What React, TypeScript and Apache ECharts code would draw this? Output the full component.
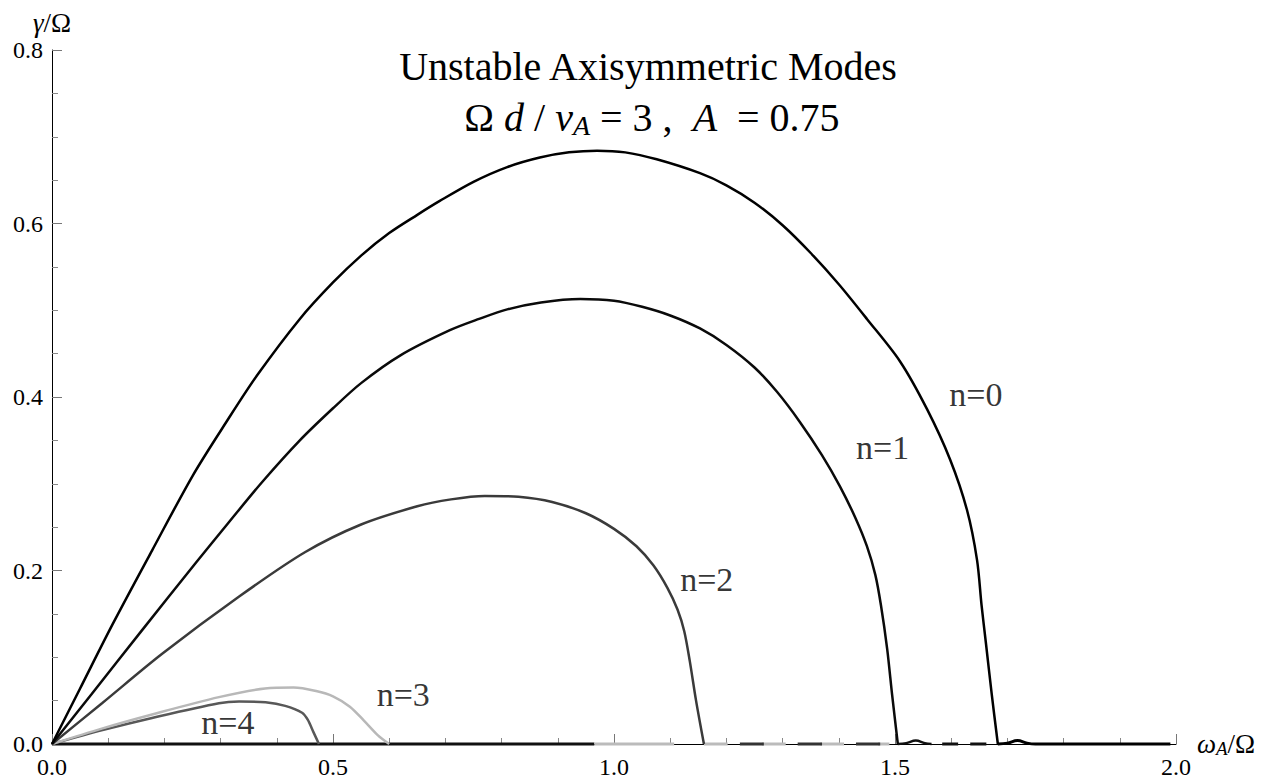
import React, { useEffect, useRef } from 'react';
import * as echarts from 'echarts';

const FONT = 'Liberation Serif';

const modeNames = ['n=0', 'n=1', 'n=2', 'n=3', 'n=4'];

const mode0: [number, number][] = [
  [0, 0], [0.05, 0.064], [0.107, 0.137], [0.178, 0.223], [0.251, 0.31], [0.311, 0.372],
  [0.365, 0.425], [0.441, 0.49], [0.5, 0.532], [0.55, 0.563], [0.6, 0.589], [0.65, 0.61],
  [0.69, 0.626], [0.75, 0.648], [0.81, 0.665], [0.868, 0.676], [0.92, 0.682], [0.97, 0.684],
  [1.02, 0.682], [1.076, 0.674], [1.153, 0.658], [1.2, 0.644], [1.25, 0.624], [1.3, 0.598],
  [1.35, 0.566], [1.4, 0.53], [1.45, 0.49], [1.509, 0.441], [1.557, 0.386], [1.598, 0.328],
  [1.628, 0.27], [1.646, 0.212], [1.654, 0.16], [1.662, 0.115], [1.672, 0.058], [1.683, 0],
];

const mode1: [number, number][] = [
  [0, 0], [0.071, 0.058], [0.16, 0.131], [0.256, 0.209], [0.314, 0.255], [0.374, 0.302],
  [0.441, 0.35], [0.5, 0.387], [0.55, 0.416], [0.62, 0.448], [0.708, 0.477], [0.76, 0.49],
  [0.81, 0.501], [0.87, 0.509], [0.94, 0.513], [1.0, 0.511], [1.05, 0.504], [1.1, 0.494],
  [1.153, 0.479], [1.2, 0.46], [1.25, 0.434], [1.29, 0.406], [1.331, 0.371], [1.37, 0.333],
  [1.402, 0.297], [1.43, 0.26], [1.45, 0.228], [1.465, 0.195], [1.475, 0.16], [1.486, 0.11],
  [1.495, 0.056], [1.505, 0],
];

const mode2: [number, number][] = [
  [0, 0], [0.089, 0.047], [0.196, 0.104], [0.333, 0.17], [0.45, 0.221], [0.55, 0.253],
  [0.65, 0.274], [0.71, 0.282], [0.77, 0.286], [0.83, 0.285], [0.89, 0.279], [0.95, 0.266],
  [1.0, 0.248], [1.04, 0.228], [1.07, 0.206], [1.095, 0.18], [1.113, 0.155], [1.125, 0.13],
  [1.135, 0.095], [1.146, 0.05], [1.16, 0],
];

const mode3: [number, number][] = [
  [0, 0], [0.09, 0.018], [0.178, 0.034], [0.297, 0.054], [0.379, 0.064], [0.43, 0.065],
  [0.47, 0.061], [0.5, 0.055], [0.53, 0.043], [0.555, 0.027], [0.58, 0.01], [0.6, 0],
];

const mode4: [number, number][] = [
  [0, 0], [0.09, 0.016], [0.178, 0.03], [0.297, 0.047], [0.333, 0.049], [0.38, 0.048],
  [0.415, 0.044], [0.445, 0.036], [0.455, 0.028], [0.465, 0.014], [0.475, 0],
];

// zero-growth branches drawn along the axis
const baseBlack: [number, number][] = [[0, 0], [0.965, 0]];
const baseLight: [number, number][] = [[0.965, 0], [1.107, 0]];
const baseGrayDash: [number, number][] = [[1.16, 0], [1.49, 0]];
const baseDarkDash: [number, number][] = [[1.224, 0], [1.49, 0]];
const tail1: [number, number][] = [[1.505, 0], [1.52, 0.001], [1.537, 0.004], [1.553, 0.001], [1.565, 0]];
const tail1Dash: [number, number][] = [[1.584, 0], [1.68, 0]];
const tail0: [number, number][] = [[1.683, 0], [1.7, 0.001], [1.718, 0.004], [1.735, 0.001], [1.75, 0], [1.99, 0]];

const xTickLabels = ['0.0', '0.5', '1.0', '1.5', '2.0'];
const yTickLabels = ['0.0', '0.2', '0.4', '0.6', '0.8'];

const modeColors = ['#000000', '#0a0a0a', '#3a3a3a', '#b8b8b8', '#585858'];

export default function App() {
  const ref = useRef<HTMLDivElement>(null);
  useEffect(() => {
    const chart = echarts.init(ref.current!, null, { renderer: 'svg' });
    const modes = [mode0, mode1, mode2, mode3, mode4];
    const curveSeries = modes.map((d, i) => ({
      type: 'line',
      name: modeNames[i],
      data: d,
      showSymbol: false,
      smooth: 0.3,
      clip: false,
      z: 8 - i,
      lineStyle: { color: modeColors[i], width: 2.5 },
    }));
    const seg = (d: [number, number][], color: string, type: any = 'solid', width = 3) => ({
      type: 'line',
      data: d,
      showSymbol: false,
      clip: false,
      smooth: 0.4,
      lineStyle: { color, width, type, cap: 'butt' },
      z: 3,
    });
    const labelAnchors: [number, number, string][] = [
      [1.644, 0.403, modeNames[0]],
      [1.478, 0.342, modeNames[1]],
      [1.165, 0.19, modeNames[2]],
      [0.625, 0.057, modeNames[3]],
      [0.313, 0.025, modeNames[4]],
    ];
    const option: any = {
      animation: false,
      backgroundColor: '#ffffff',
      textStyle: { fontFamily: FONT },
      grid: { left: 52, right: 97, top: 50, bottom: 40, containLabel: false },
      xAxis: {
        type: 'value',
        min: 0,
        max: 2,
        interval: 0.5,
        name: '{w|ω}{s|A}{r|/Ω}',
        nameLocation: 'end',
        nameGap: 20,
        nameTextStyle: {
          fontFamily: FONT,
          fontSize: 27,
          rich: {
            w: { fontFamily: FONT, fontSize: 27, fontStyle: 'italic', color: '#000', lineHeight: 28 },
            s: { fontFamily: FONT, fontSize: 19, fontStyle: 'italic', color: '#000', lineHeight: 10, verticalAlign: 'bottom' },
            r: { fontFamily: FONT, fontSize: 27, color: '#000', lineHeight: 28 },
          },
        },
        axisLine: { show: true, onZero: false, lineStyle: { color: '#000', width: 1 } },
        axisTick: { show: true, inside: true, length: 10, lineStyle: { color: '#777', width: 1 } },
        minorTick: { show: true, splitNumber: 5, length: 6, lineStyle: { color: '#888', width: 1 } },
        splitLine: { show: false },
        minorSplitLine: { show: false },
        axisLabel: {
          margin: 11,
          fontFamily: FONT,
          fontSize: 24,
          color: '#000',
          formatter: (v: number) => xTickLabels[Math.round(v / 0.5)] ?? v.toFixed(1),
        },
      },
      yAxis: {
        type: 'value',
        min: 0,
        max: 0.8,
        interval: 0.2,
        name: '{i|γ}{r|/Ω}',
        nameLocation: 'end',
        nameGap: 14,
        nameTextStyle: {
          fontFamily: FONT,
          fontSize: 27,
          rich: {
            i: { fontFamily: FONT, fontSize: 27, fontStyle: 'italic', color: '#000' },
            r: { fontFamily: FONT, fontSize: 27, color: '#000' },
          },
        },
        axisLine: { show: true, onZero: false, lineStyle: { color: '#000', width: 1 } },
        axisTick: { show: true, inside: true, length: 10, lineStyle: { color: '#777', width: 1 } },
        minorTick: { show: true, splitNumber: 4, length: 6, lineStyle: { color: '#888', width: 1 } },
        splitLine: { show: false },
        minorSplitLine: { show: false },
        axisLabel: {
          margin: 9,
          fontFamily: FONT,
          fontSize: 24,
          color: '#000',
          formatter: (v: number) => yTickLabels[Math.round(v / 0.2)] ?? v.toFixed(1),
        },
      },
      graphic: [
        {
          type: 'text',
          z: 10,
          style: {
            text: 'Unstable Axisymmetric Modes',
            x: 648,
            y: 66,
            align: 'center',
            verticalAlign: 'middle',
            fontFamily: FONT,
            fontSize: 40,
            fill: '#000',
          },
        },
        {
          type: 'text',
          z: 10,
          style: {
            text: '{r|Ω\u00a0}{i|d}{r|\u00a0/\u00a0}{i|v}{s|A}{r|\u00a0=\u00a03\u00a0,\u00a0\u00a0}{i|A}{r|\u00a0\u00a0=\u00a00.75}',
            x: 652,
            y: 117,
            align: 'center',
            verticalAlign: 'middle',
            fontFamily: FONT,
            fontSize: 40,
            rich: {
              r: { fontFamily: FONT, fontSize: 40, lineHeight: 44, fill: '#000' },
              i: { fontFamily: FONT, fontSize: 40, fontStyle: 'italic', lineHeight: 44, fill: '#000' },
              s: { fontFamily: FONT, fontSize: 28, fontStyle: 'italic', lineHeight: 18, verticalAlign: 'bottom', fill: '#000' },
            },
          },
        },
      ],
      series: [
        seg(baseBlack, '#111111'),
        seg(baseLight, '#bbbbbb'),
        seg(baseGrayDash, '#bbbbbb', [24, 34]),
        seg(baseDarkDash, '#333333', [24, 34]),
        seg(tail1, '#111111', 'solid', 2.5),
        seg(tail1Dash, '#111111', [16, 12]),
        seg(tail0, '#000000', 'solid', 3),
        ...curveSeries,
        {
          type: 'scatter',
          data: labelAnchors,
          symbolSize: 1,
          itemStyle: { color: 'rgba(0,0,0,0)' },
          z: 10,
          label: {
            show: true,
            position: 'inside',
            formatter: (p: any) => p.value[2],
            fontFamily: FONT,
            fontSize: 34,
            color: '#000',
          },
        },
      ],
    };
    chart.setOption(option);
    return () => chart.dispose();
  }, []);
  return (
    <div
      ref={ref}
      style={{ position: 'fixed', left: 0, top: 0, width: 1273, height: 784, background: '#fff' }}
    />
  );
}
